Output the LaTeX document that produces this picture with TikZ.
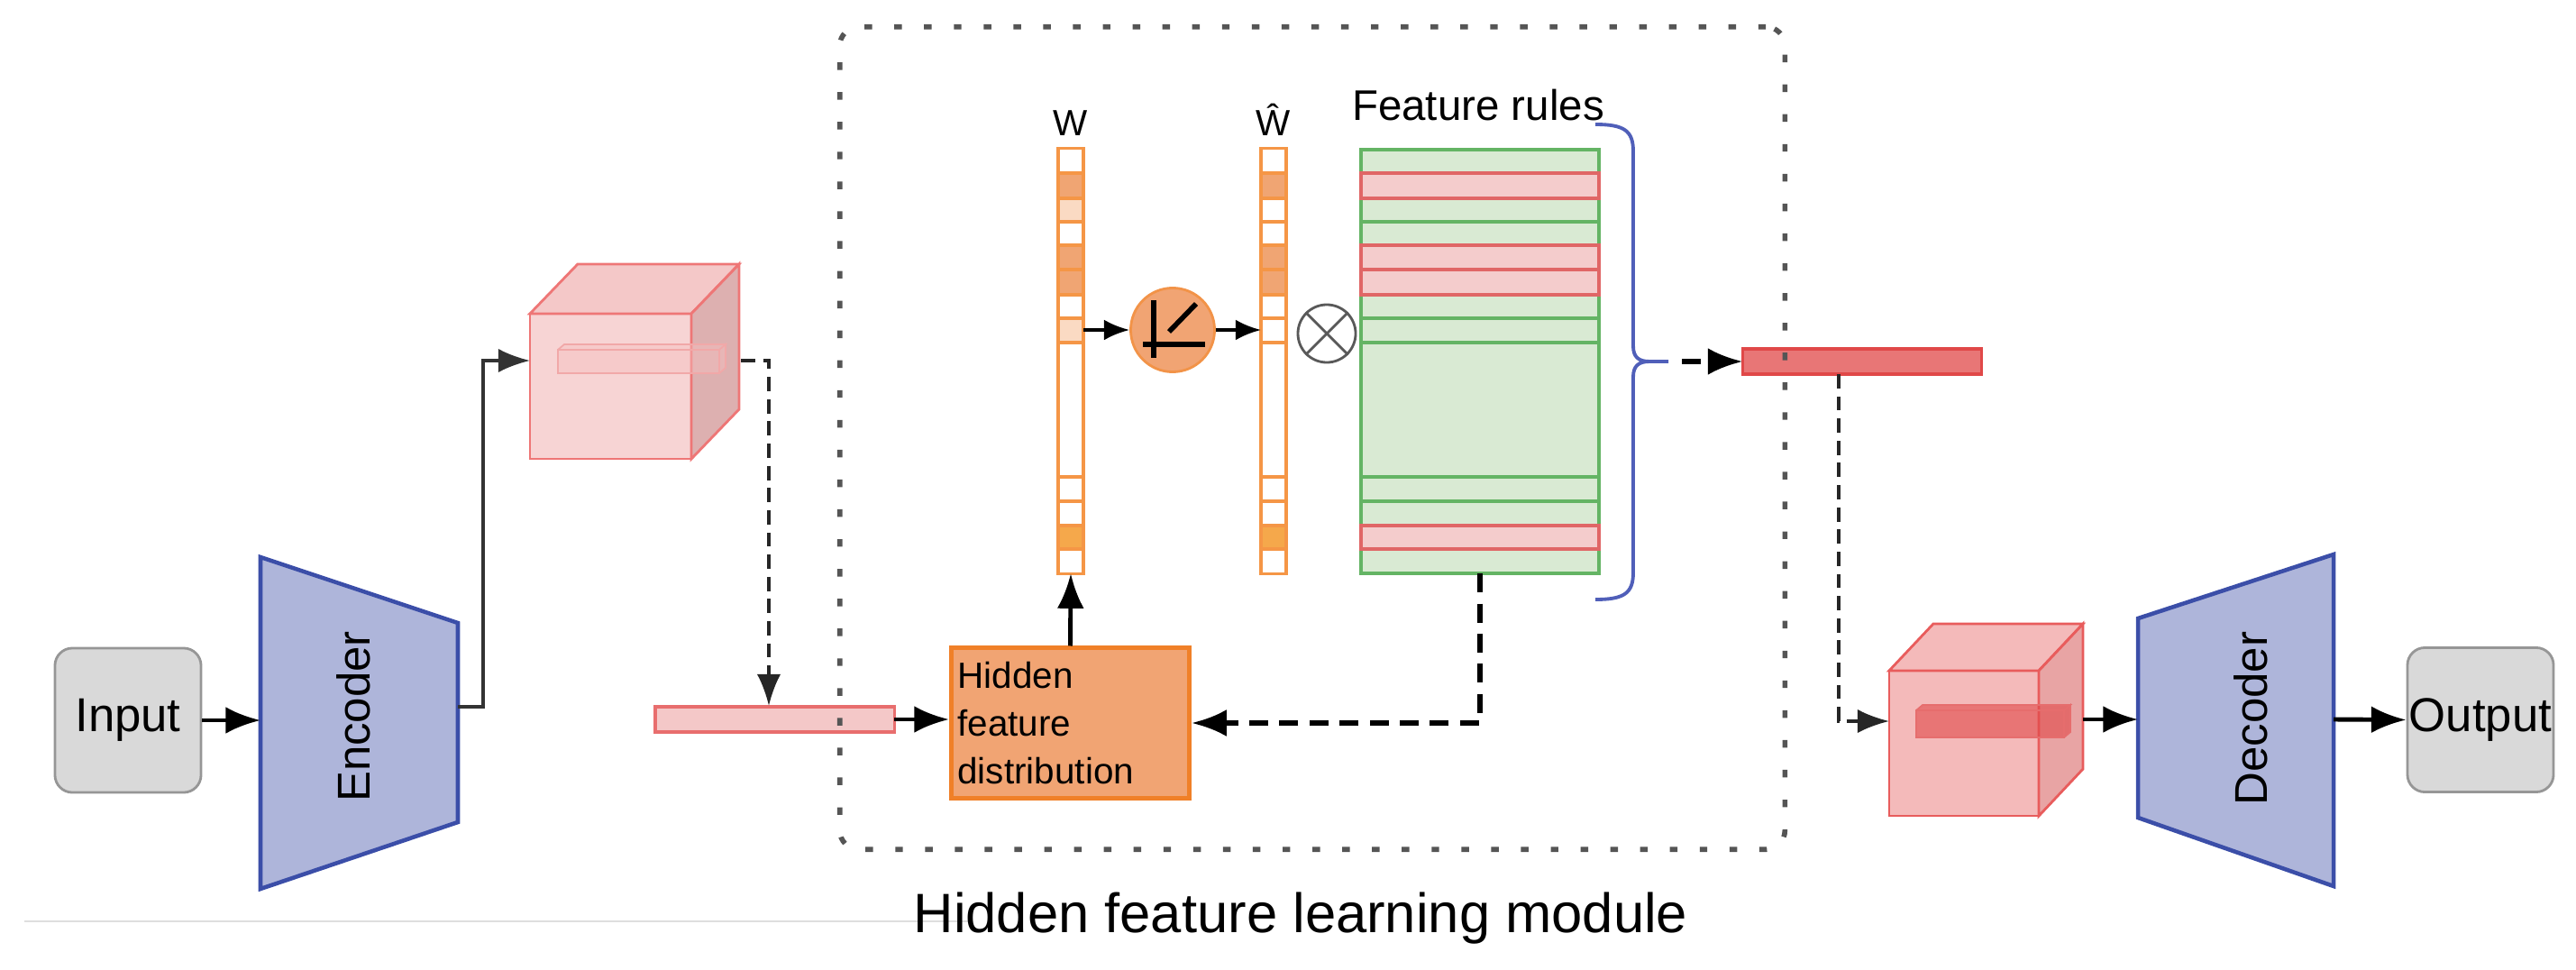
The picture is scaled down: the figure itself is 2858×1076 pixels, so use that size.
\documentclass[tikz,border=0pt]{standalone}
\usepackage{fontspec}
\setmainfont{Liberation Sans}
\usepackage{tikz}
\usetikzlibrary{arrows.meta, calc}

\definecolor{boxgray}{RGB}{217,217,217}
\definecolor{boxedge}{RGB}{150,150,150}
\definecolor{codfill}{RGB}{174,181,218}
\definecolor{codedge}{RGB}{59,78,168}
\definecolor{cubefill}{RGB}{247,212,212}
\definecolor{cubeside}{RGB}{221,176,176}
\definecolor{cubetop}{RGB}{244,200,200}
\definecolor{cubeedge}{RGB}{238,118,118}
\definecolor{cubefillb}{RGB}{244,186,186}
\definecolor{cubesideb}{RGB}{232,164,164}
\definecolor{cubeedgeb}{RGB}{232,92,92}
\definecolor{pinkbar}{RGB}{244,200,200}
\definecolor{pinkedge}{RGB}{232,110,110}
\definecolor{redbar}{RGB}{232,118,118}
\definecolor{rededge}{RGB}{224,72,72}
\definecolor{wedge}{RGB}{245,150,70}
\definecolor{wdark}{RGB}{240,165,115}
\definecolor{wlight}{RGB}{250,218,195}
\definecolor{wbright}{RGB}{245,168,75}
\definecolor{hidfill}{RGB}{241,164,115}
\definecolor{hidedge}{RGB}{240,128,40}
\definecolor{rulegreen}{RGB}{217,234,211}
\definecolor{ruleedge}{RGB}{100,180,100}
\definecolor{rulered}{RGB}{244,204,204}
\definecolor{ruleredge}{RGB}{224,102,102}
\definecolor{bracecol}{RGB}{80,95,185}
\definecolor{dotgray}{RGB}{85,85,85}

\tikzset{greybox/.style={draw=boxedge, fill=boxgray, rounded corners=5.5pt, line width=0.8pt, minimum width=1.62cm, minimum height=1.6cm, inner sep=0pt, font=\fontsize{15}{17}\selectfont},
    coder/.style={draw=codedge, fill=codfill, line width=1.3pt},
    codertext/.style={rotate=90, inner sep=0pt, font=\fontsize{14.5}{17}\selectfont},
    cubeface/.style={draw=cubeedge, line width=0.8pt, outer sep=0pt, inner sep=0pt},
    cubefaceb/.style={draw=cubeedgeb, line width=0.8pt, outer sep=0pt, inner sep=0pt},
    vecbar/.style={line width=0.9pt, outer sep=0pt, inner sep=0pt, minimum width=2.65cm, minimum height=0.28cm},
    wcol/.style={draw=wedge, fill=white, line width=0.9pt, outer sep=0pt, inner sep=0pt, minimum width=0.28cm, minimum height=4.71cm},
    wcell/.style={draw=wedge, line width=0.9pt},
    rules/.style={draw=ruleedge, fill=rulegreen, line width=1pt, outer sep=0pt, inner sep=0pt, minimum width=2.64cm, minimum height=4.70cm},
    redrow/.style={draw=ruleredge, fill=rulered, line width=1pt},
    arr/.style={-{Latex[length=11pt,width=8.5pt]}, line width=1.4pt},
    thinarr/.style={-{Latex[length=10pt,width=7.5pt]}, line width=1pt, draw=black!80},
    smallarr/.style={-{Latex[length=8pt,width=6.5pt]}, line width=1pt},
    dasharr/.style={-{Latex[length=10pt,width=7.5pt]}, line width=1pt, dash pattern=on 4.5pt off 2.5pt, draw=black!85},
    thickdash/.style={-{Latex[length=11pt,width=8.5pt]}, line width=1.5pt, dash pattern=on 6pt off 3.5pt},
    modbox/.style={draw=dotgray, line width=1.6pt, dash pattern=on 2.4pt off 7pt, rounded corners=6pt, minimum width=10.48cm, minimum height=9.12cm, inner sep=0pt},
}

\begin{document}
\begin{tikzpicture}[x=0.01cm, y=-0.01cm]
        \useasboundingbox (0,0) rectangle (2858,1076);
        \draw[black!13, line width=0.6pt] (27,1022) -- (1075,1022);

        \node[greybox] (input) at (142,799) {Input};
        \filldraw[coder] (289,618) -- (508,691) -- (508,912) -- (289,986) -- cycle;
        \coordinate (encL) at (289,799);
        \coordinate (encR) at (508,784);
        \node[codertext] (enctext) at (392,795) {Encoder};
        \draw[arr] (input.east) -- (encL);

        % first cube
        \node[cubeface, fill=cubefill, minimum width=1.79cm, minimum height=1.61cm] (c1) at (677.5,428.5) {};
        \filldraw[cubeface, fill=cubetop] (c1.north west) -- ++(53,-55) -- ++(179,0) -- (c1.north east) -- cycle;
        \filldraw[cubeface, fill=cubeside] (c1.north east) -- ++(53,-55) -- ++(0,161) -- (c1.south east) -- cycle;
        \filldraw[draw=pinkedge!60, fill=pinkedge!45, fill opacity=0.45, line width=0.5pt] (619,388) rectangle (798,414) (619,388) -- (626,382) -- (805,382) -- (798,388) (798,388) -- (805,382) -- (805,408) -- (798,414);
        \coordinate (c1in) at (588,400);
        \coordinate (c1out) at (822,400);
        \draw[thinarr] (encR) -- ++(28,0) |- (c1in);

        \node[vecbar, draw=pinkedge, fill=pinkbar] (bar1) at (859.5,798) {};
        \coordinate (b1in) at (853,783);
        \draw[dasharr] (c1out) -| (b1in);

        \node[draw=hidedge, fill=hidfill, line width=1.4pt, text width=2.5cm, minimum height=1.66cm, inner xsep=2pt, align=left, font=\fontsize{11.5}{15}\selectfont] (hid) at (1187.5,802) {Hidden\\feature\\distribution};
        \draw[arr] (bar1.east) -- (bar1.east -| hid.west);

        % W and W hat
        \node[wcol] (w) at (1188,400.5) {};
        \filldraw[wcell, fill=wdark] (1174,192) rectangle (1202,220);
        \filldraw[wcell, fill=wlight] (1174,220) rectangle (1202,246);
        \filldraw[wcell, fill=wdark] (1174,272) rectangle (1202,299);
        \filldraw[wcell, fill=wdark] (1174,299) rectangle (1202,327);
        \filldraw[wcell, fill=wlight] (1174,353) rectangle (1202,380);
        \filldraw[wcell, fill=wbright] (1174,583) rectangle (1202,609);
        \draw[wcell] (1174,529) -- (1202,529) (1174,556) -- (1202,556);
        \node[anchor=base, inner sep=0pt, font=\fontsize{11.5}{13}\selectfont] (wlabel) at (1188,150) {W};

        \node[wcol] (wh) at (1413,400.5) {};
        \filldraw[wcell, fill=wdark] (1399,192) rectangle (1427,220);
        \filldraw[wcell, fill=wdark] (1399,272) rectangle (1427,299);
        \filldraw[wcell, fill=wdark] (1399,299) rectangle (1427,327);
        \filldraw[wcell, fill=wbright] (1399,583) rectangle (1427,609);
        \draw[wcell] (1399,246) -- (1427,246) (1399,353) -- (1427,353) (1399,380) -- (1427,380) (1399,529) -- (1427,529) (1399,556) -- (1427,556);
        \node[anchor=base, inner sep=0pt, font=\fontsize{11.5}{13}\selectfont] (whlabel) at (1413,150) {Ŵ};

        \draw[arr] (hid.north) -- (w.south);

        \node[circle, draw=hidedge!85, fill=hidfill, line width=0.8pt, minimum size=0.93cm, inner sep=0pt] (relu) at (1301,366) {};
        \draw[line width=1.6pt] (1280,333) -- (1280,397);
        \draw[line width=1.6pt] (1268,382) -- (1337,382);
        \draw[line width=1.6pt] (1297,368) -- (1327,337);
        \draw[smallarr] (w.east |- relu.west) -- (relu.west);
        \draw[smallarr] (relu.east) -- (relu.east -| wh.west);

        \node[circle, draw=black!65, line width=0.8pt, minimum size=0.64cm, inner sep=0pt] (mult) at (1472,370) {};
        \draw[black!65, line width=0.8pt] (mult.north west) -- (mult.south east) (mult.north east) -- (mult.south west);

        % feature rules
        \node[rules] (fr) at (1642,401) {};
        \draw[draw=ruleedge, line width=1pt] (1510,246) -- (1774,246) (1510,353) -- (1774,353) (1510,380) -- (1774,380) (1510,529) -- (1774,529) (1510,556) -- (1774,556);
        \filldraw[redrow] (1510,192) rectangle (1774,220);
        \filldraw[redrow] (1510,272) rectangle (1774,299);
        \filldraw[redrow] (1510,299) rectangle (1774,327);
        \filldraw[redrow] (1510,583) rectangle (1774,609);
        \node[anchor=base, inner sep=0pt, font=\fontsize{13.5}{16}\selectfont] (frlabel) at (1640,134) {Feature rules};
        \draw[thickdash] (fr.south) |- (hid.east);

        \draw[bracecol, line width=1.1pt] (1770,138) .. controls (1802,138) and (1812,145) .. (1812,168) -- (1812,384) .. controls (1812,396) and (1818,401) .. (1830,401) -- (1851,401);
        \draw[bracecol, line width=1.1pt] (1770,665) .. controls (1802,665) and (1812,658) .. (1812,635) -- (1812,418) .. controls (1812,406) and (1818,401) .. (1830,401);
        \coordinate (brout) at (1866,401);

        \node[vecbar, draw=rededge, fill=redbar] (bar2) at (2066,401) {};
        \draw[thickdash] (brout) -- (bar2.west);

        % second cube
        \node[cubefaceb, fill=cubefillb, minimum width=1.66cm, minimum height=1.61cm] (c2) at (2179,824.5) {};
        \filldraw[cubefaceb, fill=cubefillb] (c2.north west) -- ++(49,-52) -- ++(166,0) -- (c2.north east) -- cycle;
        \filldraw[cubefaceb, fill=cubesideb] (c2.north east) -- ++(49,-52) -- ++(0,161) -- (c2.south east) -- cycle;
        \filldraw[draw=rededge!80, fill=rededge, fill opacity=0.6, line width=0.5pt] (2126,788) rectangle (2290,818) (2126,788) -- (2133,782) -- (2297,782) -- (2290,788) (2290,788) -- (2297,782) -- (2297,812) -- (2290,818);
        \coordinate (b2out) at (2040,415);
        \coordinate (c2in) at (2096,800);
        \coordinate (c2out) at (2311,798);
        \draw[dasharr] (b2out) |- (c2in);

        \filldraw[coder] (2372,686) -- (2589,615) -- (2589,983) -- (2372,907) -- cycle;
        \coordinate (decL) at (2372,798);
        \coordinate (decR) at (2589,798);
        \node[codertext] (dectext) at (2497,797) {Decoder};
        \draw[arr] (c2out) -- (decL);

        \node[greybox] (output) at (2752,798.5) {Output};
        \draw[arr] (decR) -- (output.west);

        % module frame
        \node[modbox] (mod) at (1456,486) {};
        \node[anchor=base, inner sep=0pt, font=\fontsize{17.5}{20}\selectfont] (modlabel) at (1443,1034) {Hidden feature learning module};
\end{tikzpicture}
\end{document}
